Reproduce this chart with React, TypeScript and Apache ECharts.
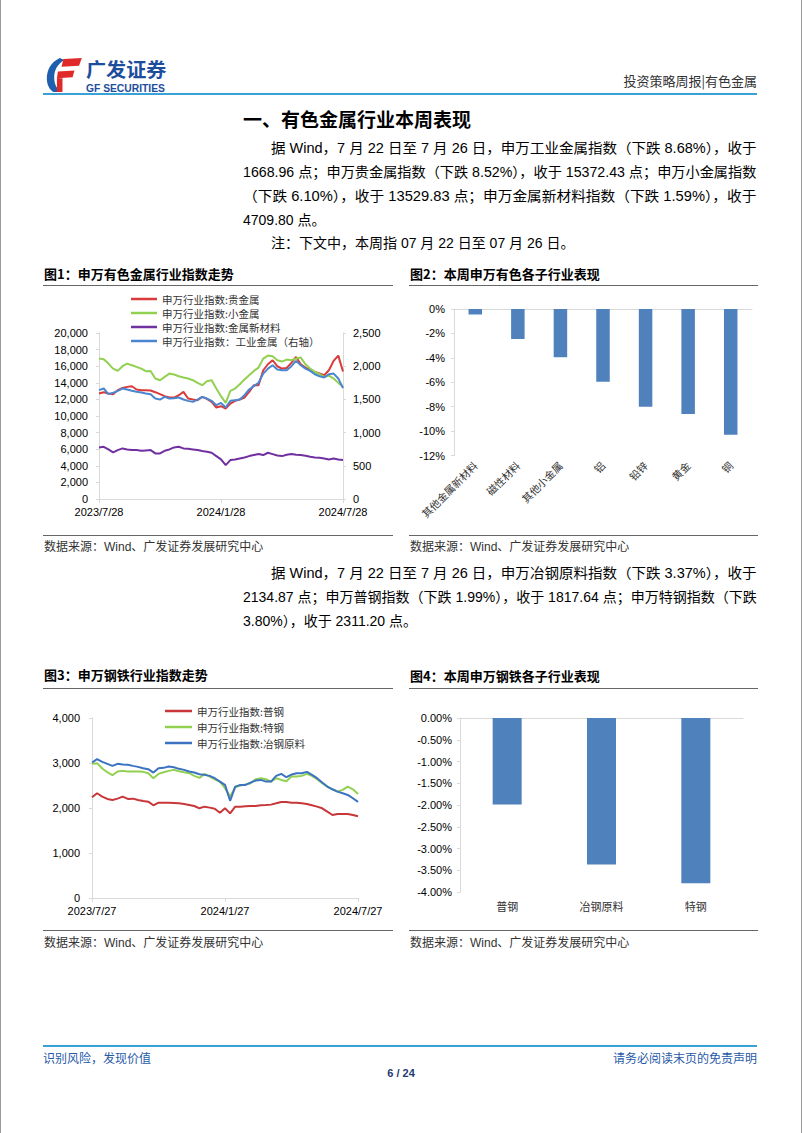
import React, { useEffect, useRef } from 'react';
import * as echarts from 'echarts';

// ---------------- data ----------------
const weeks1 = ['2023/7/28','2023/8/4','2023/8/11','2023/8/18','2023/8/25','2023/9/1','2023/9/8','2023/9/15','2023/9/22','2023/9/29','2023/10/6','2023/10/13','2023/10/20','2023/10/27','2023/11/3','2023/11/10','2023/11/17','2023/11/24','2023/12/1','2023/12/8','2023/12/15','2023/12/22','2023/12/29','2024/1/5','2024/1/12','2024/1/19','2024/1/26','2024/2/2','2024/2/9','2024/2/16','2024/2/23','2024/3/1','2024/3/8','2024/3/15','2024/3/22','2024/3/29','2024/4/5','2024/4/12','2024/4/19','2024/4/26','2024/5/3','2024/5/10','2024/5/17','2024/5/24','2024/5/31','2024/6/7','2024/6/14','2024/6/21','2024/6/28','2024/7/5','2024/7/12','2024/7/19','2024/7/26'];
const tickIdx1 = [0, 26, 52];
const tickLabels1 = ['2023/7/28', '2024/1/28', '2024/7/28'];

const preciousMetal = [12707,12868,12707,12627,13108,13388,13509,13589,13188,13108,13108,13068,12868,12627,12386,12226,12226,12507,12908,12106,11985,11905,12306,12066,11705,11023,11184,10903,11505,11825,11985,12226,12908,13709,13709,15513,16235,16716,15995,15714,15794,16395,17117,16235,15834,15513,15313,15113,14912,15513,16636,17277,15372];
const minorMetal = [16917,16836,16315,15714,15433,15995,16315,16115,15914,15714,15393,15433,14511,14311,14712,15113,14992,14792,14631,14511,14311,13990,13709,14190,14311,13309,12386,11585,13028,13309,13830,14391,14912,15433,15834,16917,17277,17197,16716,16556,16796,16716,16917,17037,16235,15714,15313,15033,14712,14872,14511,13990,13530];
const newMaterial = [6213,6293,5972,5611,5892,6093,5972,5892,5892,5812,5852,5892,5491,5491,5812,5972,6213,6293,6093,6052,5972,5892,5772,5691,5571,5170,4770,4088,4690,4770,4890,5010,5170,5290,5411,5290,5571,5411,5250,5170,5330,5411,5330,5290,5210,5090,5010,4970,4890,4770,4890,4770,4710];
const industrialMetal = [1639,1664,1579,1599,1629,1664,1649,1629,1614,1604,1589,1579,1513,1498,1538,1513,1518,1528,1498,1478,1463,1498,1538,1513,1478,1413,1448,1378,1478,1488,1498,1564,1649,1699,1749,1889,1964,2015,1949,1939,1939,2000,2080,2015,1964,1929,1879,1849,1829,1879,1889,1814,1669];

const subIndustries2 = ['其他金属新材料', '磁性材料', '其他小金属', '铝', '铅锌', '黄金', '铜'];
const change2 = [-0.45, -2.45, -3.95, -5.95, -8.0, -8.6, -10.3];

const weeks3 = ['2023/7/27','2023/8/3','2023/8/10','2023/8/17','2023/8/24','2023/8/31','2023/9/7','2023/9/14','2023/9/21','2023/9/28','2023/10/5','2023/10/12','2023/10/19','2023/10/26','2023/11/2','2023/11/9','2023/11/16','2023/11/23','2023/11/30','2023/12/7','2023/12/14','2023/12/21','2023/12/28','2024/1/4','2024/1/11','2024/1/18','2024/1/25','2024/2/1','2024/2/8','2024/2/15','2024/2/22','2024/2/29','2024/3/7','2024/3/14','2024/3/21','2024/3/28','2024/4/4','2024/4/11','2024/4/18','2024/4/25','2024/5/2','2024/5/9','2024/5/16','2024/5/23','2024/5/30','2024/6/6','2024/6/13','2024/6/20','2024/6/27','2024/7/4','2024/7/11','2024/7/18','2024/7/25'];
const tickIdx3 = [0, 26, 52];
const tickLabels3 = ['2023/7/27', '2024/1/27', '2024/7/27'];

const plainSteel = [2238,2327,2253,2201,2179,2208,2253,2201,2208,2179,2156,2141,2060,2119,2119,2119,2112,2104,2089,2067,2045,1993,2030,2008,1985,1896,1993,1881,2030,2030,2038,2045,2045,2060,2067,2075,2104,2134,2134,2119,2119,2104,2089,2060,2030,1993,1918,1844,1866,1866,1866,1844,1818];
const specialSteel = [2981,2996,2877,2795,2728,2810,2825,2810,2810,2810,2803,2773,2662,2758,2795,2825,2847,2818,2795,2773,2714,2669,2758,2699,2639,2587,2439,2253,2461,2498,2520,2550,2639,2662,2639,2587,2662,2624,2595,2699,2699,2714,2758,2714,2639,2550,2476,2416,2364,2402,2476,2416,2311];
const steelRaw = [3011,3085,3026,2981,2936,2981,2966,2959,2936,2914,2884,2862,2788,2884,2892,2922,2907,2870,2847,2810,2788,2751,2736,2714,2662,2587,2513,2160,2476,2513,2513,2565,2610,2624,2587,2587,2714,2758,2684,2743,2773,2773,2803,2736,2662,2565,2476,2416,2364,2327,2290,2216,2135];

const subIndustries4 = ['普钢', '冶钢原料', '特钢'];
const change4 = [-1.99, -3.37, -3.8];

// ---------------- styles ----------------
const FONT = "'Liberation Sans', Arial, 'Noto Sans CJK SC', sans-serif";
const CJK = "'Noto Sans CJK SC', 'Liberation Sans', sans-serif";
const AXIS = '#d9d9d9';
const BLUE_LINE = '#3aa0d8';

const T = (text: string, x: number, y: number, o: any = {}, extra: any = {}) => ({
  type: 'text', x, y, silent: true, ...extra,
  style: { text, fontFamily: FONT, fontSize: 14, fill: '#000', align: 'left', verticalAlign: 'middle', ...o },
});
const L = (x1: number, y1: number, x2: number, y2: number, stroke: string, lineWidth = 1) => ({
  type: 'line', silent: true, shape: { x1, y1, x2, y2 }, style: { stroke, lineWidth },
});

function measure(s: string, size: number) {
  try {
    const ctx = document.createElement('canvas').getContext('2d');
    if (!ctx) return 0;
    ctx.font = `${size}px ${FONT}`;
    return ctx.measureText(s).width;
  } catch (e) {
    return 0;
  }
}
// a justified body line: stretched horizontally to span [x, right]
const J = (text: string, x: number, y: number, right: number) => {
  const w = measure(text, 14);
  const sx = w > 0 ? Math.max(0.9, Math.min(1.1, (right - x) / w)) : 1;
  return T(text, x, y, {}, { scaleX: sx });
};

const fmtComma = (v: number) => v.toLocaleString('en-US');

const catAxis = (gridIndex: number, data: string[], idx: number[], labels: string[]) => ({
  type: 'category', gridIndex, data, boundaryGap: false,
  axisLine: { show: true, onZero: false, lineStyle: { color: AXIS, width: 1 } },
  axisTick: { show: true, length: 4, interval: (i: number) => idx.includes(i), lineStyle: { color: AXIS } },
  axisLabel: {
    fontFamily: FONT, fontSize: 11, color: '#000', margin: 7,
    interval: (i: number) => idx.includes(i),
    formatter: (_v: string, i: number) => { const k = idx.indexOf(i); return k >= 0 ? labels[k] : ''; },
  },
  splitLine: { show: false },
});

const valAxis = (gridIndex: number, min: number, max: number, interval: number, formatter: any, position = 'left', margin = 10) => ({
  type: 'value', gridIndex, min, max, interval, position,
  axisLine: { show: true, lineStyle: { color: AXIS } },
  axisTick: { show: true, length: 3, lineStyle: { color: AXIS } },
  axisLabel: { fontFamily: FONT, fontSize: 11, color: '#000', margin, formatter },
  splitLine: { show: false },
});

const lineSeries = (name: string, data: number[], color: string, xAxisIndex: number, yAxisIndex: number) => ({
  type: 'line', name, data, xAxisIndex, yAxisIndex, symbol: 'none', showSymbol: false,
  lineStyle: { width: 2, color }, itemStyle: { color },
});

let shapesRegistered = false;
function registerShapes() {
  if (shapesRegistered) return;
  shapesRegistered = true;
  const g: any = (echarts as any).graphic;
  g.registerShape('gfBlue', g.extendPath('M16 1 C7 5 2 13 2 22 C2 29 5 34 9 36 L17 36 C12 32 10 27 10 21 C10 13 14 7 21 3 Z', {}));
  g.registerShape('gfRed', g.extendPath('M20 2 L40 1 L37 9 L18 10 Z M14 15 L32 14 L30 21 L13 22 Z M13 22 L19 22 L19 36 L13 36 Z', {}));
}

function buildOption() {
  const para1 = [
    '据 Wind，7 月 22 日至 7 月 26 日，申万工业金属指数（下跌 8.68%），收于',
    '1668.96 点；申万贵金属指数（下跌 8.52%），收于 15372.43 点；申万小金属指数',
    '（下跌 6.10%），收于 13529.83 点；申万金属新材料指数（下跌 1.59%），收于',
    '4709.80 点。',
  ];
  const para2 = [
    '据 Wind，7 月 22 日至 7 月 26 日，申万冶钢原料指数（下跌 3.37%），收于',
    '2134.87 点；申万普钢指数（下跌 1.99%），收于 1817.64 点；申万特钢指数（下跌',
    '3.80%），收于 2311.20 点。',
  ];
  const bodyLines = (lines: string[], y0: number) =>
    lines.map((s, i) => {
      const x = i === 0 ? 271 : 243;
      const y = y0 + i * 24;
      return i < lines.length - 1 ? J(s, x, y, 757) : T(s, x, y);
    });

  const graphic: any[] = [
    L(0.5, 0, 0.5, 1133, '#9a9a9a'),
    L(801.5, 0, 801.5, 1133, '#9a9a9a'),
    { type: 'gfBlue', x: 45, y: 57, scaleX: 0.92, scaleY: 0.97, silent: true, style: { fill: '#1f5fae' } },
    { type: 'gfRed', x: 45, y: 57, scaleX: 0.92, scaleY: 0.97, silent: true, style: { fill: '#e02a2a' } },
    T('广发证券', 86, 69, { fontSize: 19, fontWeight: 'bold', fill: '#1d4e9e', fontFamily: CJK, lineHeight: 19 }, { scaleX: 1.06 }),
    T('GF SECURITIES', 86, 88.5, { fontSize: 10, fontWeight: 'bold', fill: '#1d4e9e', lineHeight: 10 }, { scaleX: 1.03 }),
    T('投资策略周报|有色金属', 757, 80, { fontSize: 13, align: 'right', fill: '#333', fontFamily: CJK }),
    L(43, 94, 757, 94, BLUE_LINE, 2),
    T('一、有色金属行业本周表现', 243, 118, { fontSize: 19, fontWeight: 'bold', fontFamily: CJK }),
    ...bodyLines(para1, 148),
    T('注：下文中，本周指 07 月 22 日至 07 月 26 日。', 271, 243),
    ...bodyLines(para2, 573),
    // figure frames
    T('图1：申万有色金属行业指数走势', 44, 273, { fontSize: 13, fontWeight: 'bold', fontFamily: CJK }),
    T('图2：本周申万有色各子行业表现', 410, 273, { fontSize: 13, fontWeight: 'bold', fontFamily: CJK }),
    L(43, 285.5, 393, 285.5, '#666'), L(409, 285.5, 758, 285.5, '#666'),
    L(43, 535.5, 393, 535.5, '#666'), L(409, 535.5, 758, 535.5, '#666'),
    T('数据来源：Wind、广发证券发展研究中心', 44, 547, { fontSize: 12, fill: '#333' }),
    T('数据来源：Wind、广发证券发展研究中心', 410, 547, { fontSize: 12, fill: '#333' }),
    T('图3：申万钢铁行业指数走势', 44, 674, { fontSize: 13, fontWeight: 'bold', fontFamily: CJK }),
    T('图4：本周申万钢铁各子行业表现', 410, 675, { fontSize: 13, fontWeight: 'bold', fontFamily: CJK }),
    L(43, 688.5, 393, 688.5, '#666'), L(409, 688.5, 758, 688.5, '#666'),
    L(43, 930.5, 393, 930.5, '#666'), L(409, 930.5, 758, 930.5, '#666'),
    T('数据来源：Wind、广发证券发展研究中心', 44, 943, { fontSize: 12, fill: '#333' }),
    T('数据来源：Wind、广发证券发展研究中心', 410, 943, { fontSize: 12, fill: '#333' }),
    // footer
    L(43, 1046, 757, 1046, BLUE_LINE, 2),
    T('识别风险，发现价值', 43, 1057, { fontSize: 12, fill: '#1f5aa8', fontFamily: CJK }),
    T('请务必阅读末页的免责声明', 757, 1057, { fontSize: 12, fill: '#1f5aa8', fontFamily: CJK, align: 'right' }),
    T('6 / 24', 401, 1073, { fontSize: 11, fontWeight: 'bold', fill: '#1f3b73', align: 'center' }),
  ];

  const legendText = { fontFamily: CJK, fontSize: 10.5, color: '#333', lineHeight: 12 };
  const names1 = ['申万行业指数:贵金属', '申万行业指数:小金属', '申万行业指数:金属新材料', '申万行业指数：工业金属（右轴）'];
  const names3 = ['申万行业指数:普钢', '申万行业指数:特钢', '申万行业指数:冶钢原料'];

  return {
    animation: false,
    backgroundColor: '#fff',
    graphic,
    legend: [
      { data: names1, orient: 'vertical', left: 131, top: 293, icon: 'rect', itemWidth: 26, itemHeight: 2.5, itemGap: 2, padding: 0, textStyle: legendText },
      { data: names3, orient: 'vertical', left: 165, top: 705, icon: 'rect', itemWidth: 27, itemHeight: 2.5, itemGap: 4, padding: 0, textStyle: legendText },
    ],
    grid: [
      { left: 99, top: 333, width: 244, height: 166 },
      { left: 454, top: 309, width: 298, height: 146.5 },
      { left: 92, top: 718, width: 266, height: 180 },
      { left: 460, top: 718, width: 283, height: 174 },
    ],
    xAxis: [
      catAxis(0, weeks1, tickIdx1, tickLabels1),
      {
        type: 'category', gridIndex: 1, data: subIndustries2, position: 'bottom',
        axisLine: { show: false, onZero: false }, axisTick: { show: false },
        axisLabel: { fontFamily: CJK, fontSize: 10.5, color: '#333', rotate: 45, margin: 8, interval: 0 },
      },
      {
        type: 'category', gridIndex: 1, data: subIndustries2, position: 'top',
        axisLine: { show: true, onZero: false, lineStyle: { color: AXIS } }, axisTick: { show: false }, axisLabel: { show: false },
      },
      catAxis(2, weeks3, tickIdx3, tickLabels3),
      {
        type: 'category', gridIndex: 3, data: subIndustries4, position: 'bottom',
        axisLine: { show: false, onZero: false }, axisTick: { show: false },
        axisLabel: { fontFamily: CJK, fontSize: 11, color: '#333', margin: 8, interval: 0 },
      },
      {
        type: 'category', gridIndex: 3, data: subIndustries4, position: 'top',
        axisLine: { show: true, onZero: false, lineStyle: { color: AXIS } }, axisTick: { show: false }, axisLabel: { show: false },
      },
    ],
    yAxis: [
      valAxis(0, 0, 20000, 2000, fmtComma, 'left', 11),
      valAxis(0, 0, 2500, 500, fmtComma, 'right', 10),
      valAxis(1, -12, 0, 2, (v: number) => v + '%', 'left', 9),
      valAxis(2, 0, 4000, 1000, fmtComma, 'left', 12),
      valAxis(3, -4, 0, 0.5, (v: number) => v.toFixed(2) + '%', 'left', 8),
    ],
    series: [
      lineSeries(names1[0], preciousMetal, '#d93a3a', 0, 0),
      lineSeries(names1[1], minorMetal, '#92d050', 0, 0),
      lineSeries(names1[2], newMaterial, '#7030a0', 0, 0),
      lineSeries(names1[3], industrialMetal, '#4a86d0', 0, 1),
      { type: 'bar', name: '本周涨跌幅(有色)', data: change2, xAxisIndex: 1, yAxisIndex: 2, barWidth: 13.5, itemStyle: { color: '#4f81bd' } },
      lineSeries(names3[0], plainSteel, '#c8363a', 3, 3),
      lineSeries(names3[1], specialSteel, '#92d050', 3, 3),
      lineSeries(names3[2], steelRaw, '#3b73c2', 3, 3),
      { type: 'bar', name: '本周涨跌幅(钢铁)', data: change4, xAxisIndex: 4, yAxisIndex: 4, barWidth: 29, itemStyle: { color: '#4f81bd' } },
    ],
  };
}

export default function App() {
  const ref = useRef<HTMLDivElement>(null);
  useEffect(() => {
    if (!ref.current) return;
    registerShapes();
    const chart = echarts.init(ref.current, undefined, { renderer: 'svg' });
    chart.setOption(buildOption() as any);
    return () => chart.dispose();
  }, []);
  return (
    <div
      ref={ref}
      style={{ position: 'absolute', left: 0, top: 0, width: 802, height: 1133, background: '#fff' }}
    />
  );
}
